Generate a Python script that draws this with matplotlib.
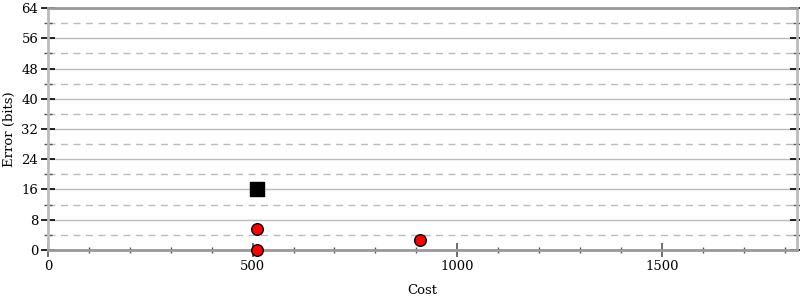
import numpy as np
import matplotlib.pyplot as plt
from matplotlib.ticker import MultipleLocator

plt.rcParams['font.family'] = 'DejaVu Serif'

# red circles
circ_cost = [511, 511, 908]
circ_err = [0, 5.4, 2.7]
# black square
sq_cost = [510]
sq_err = [16]

fig = plt.figure(figsize=(8, 3), dpi=100)
ax = fig.add_axes([0.06, 0.167, 0.936, 0.806])

ax.set_xlim(0, 1830)
ax.set_ylim(0, 64)
ax.xaxis.set_major_locator(MultipleLocator(500))
ax.xaxis.set_minor_locator(MultipleLocator(100))
ax.yaxis.set_major_locator(MultipleLocator(8))
ax.yaxis.set_minor_locator(MultipleLocator(4))

ax.grid(True, which='major', axis='y', color='#bbbbbb', lw=1, ls='-')
ax.grid(True, which='minor', axis='y', color='#bbbbbb', lw=1, ls=(0, (5, 4)))
ax.set_axisbelow(True)

for s in ax.spines.values():
    s.set_color('#999999')
    s.set_linewidth(2)
ax.spines['left'].set_color('#bbbbbb')
ax.spines['right'].set_color('#bbbbbb')

ax.tick_params(which='both', direction='inout', right=True, labelsize=9.5, colors='black', pad=2)
ax.tick_params(which='major', length=10, width=1.2)
ax.tick_params(which='minor', length=6, width=1, color='#555555')
ax.tick_params(axis='x', which='both', color='#555555')
ax.tick_params(axis='x', which='minor', length=5)

ax.scatter(circ_cost, circ_err, s=70, c='red', edgecolors='black', linewidths=1, zorder=3, clip_on=False)
ax.scatter(sq_cost, sq_err, s=90, c='black', marker='s', zorder=3)

ax.set_xlabel('Cost', fontsize=9.5, labelpad=8)
ax.set_ylabel('Error (bits)', fontsize=9.5, labelpad=4)

fig.savefig('out.png')
